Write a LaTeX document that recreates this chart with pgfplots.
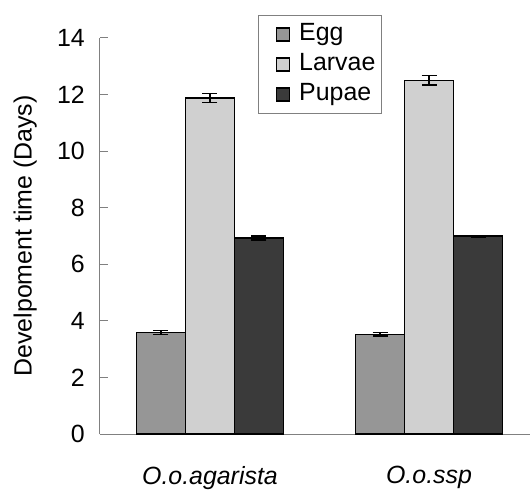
\documentclass[border=0pt]{standalone}
\usepackage{fontspec}
\setmainfont{Liberation Sans}
\usepackage{pgfplots}
\pgfplotsset{compat=1.18}
\definecolor{axgray}{RGB}{128,128,128}
\definecolor{eggc}{RGB}{150,150,150}
\definecolor{larc}{RGB}{208,208,208}
\definecolor{pupc}{RGB}{58,58,58}
\begin{document}
\begin{tikzpicture}[font=\fontsize{25}{30}\selectfont]
\begin{axis}[
  scale only axis,
  width=430bp, height=396bp,
  xmin=-0.502, xmax=1.461,
  ymin=0, ymax=14,
  ytick={0,2,...,14},
  xtick={0,1},
  xticklabels={\textit{O.o.agarista},\textit{O.o.ssp}},
  axis lines*=left,
  axis line style={axgray, line width=1bp},
  tick align=inside,
  major tick length=8bp,
  ytick style={axgray, line width=1bp},
  xtick style={draw=none},
  /pgf/number format/assume math mode=true,
  yticklabel style={xshift=-11.7bp},
  xticklabel style={yshift=-20.7bp},
  ylabel={Develpoment time (Days)},
  ylabel style={at={(axis description cs:-0.174,0.5)}, anchor=center},
  ybar,
  bar width=0.2237,
  clip=false,
  legend style={at={(rel axis cs:0.367,1.058)}, anchor=north west,
    draw=axgray, line width=0.8bp, inner xsep=6bp, inner ysep=7bp,
    row sep=6bp, cells={anchor=west},
    nodes={inner sep=0.5bp, text height=18bp, text depth=5bp}},
  legend image code/.code={\path[draw=none,fill=none] (-12.5bp,0) -- (22bp,0);
    \draw[#1, line width=1.2bp] (0bp,-6.5bp) rectangle (13bp,6.5bp);},
  error bars/error bar style={black, line width=1.3bp},
  error bars/error mark options={rotate=90, black, line width=1.3bp, mark size=7.5bp},
]
\addplot[fill=eggc, draw=black, line width=1.2bp, bar shift=-0.2237,
  error bars/.cd, y dir=both, y explicit]
  coordinates {(0,3.60) +- (0,0.07) (1,3.53) +- (0,0.07)};
\addplot[fill=larc, draw=black, line width=1.2bp, bar shift=0,
  error bars/.cd, y dir=both, y explicit]
  coordinates {(0,11.88) +- (0,0.15) (1,12.51) +- (0,0.17)};
\addplot[fill=pupc, draw=black, line width=1.2bp, bar shift=0.2237,
  error bars/.cd, y dir=both, y explicit]
  coordinates {(0,6.93) +- (0,0.07) (1,7.00) +- (0,0.03)};
\legend{Egg,Larvae,Pupae}
\end{axis}
\path (current axis.south west) ++(-100bp,-49bp) coordinate (bbA);
\path (current axis.north east) ++(1bp,38bp) coordinate (bbB);
\path (bbA) rectangle (bbB);
\end{tikzpicture}
\end{document}
